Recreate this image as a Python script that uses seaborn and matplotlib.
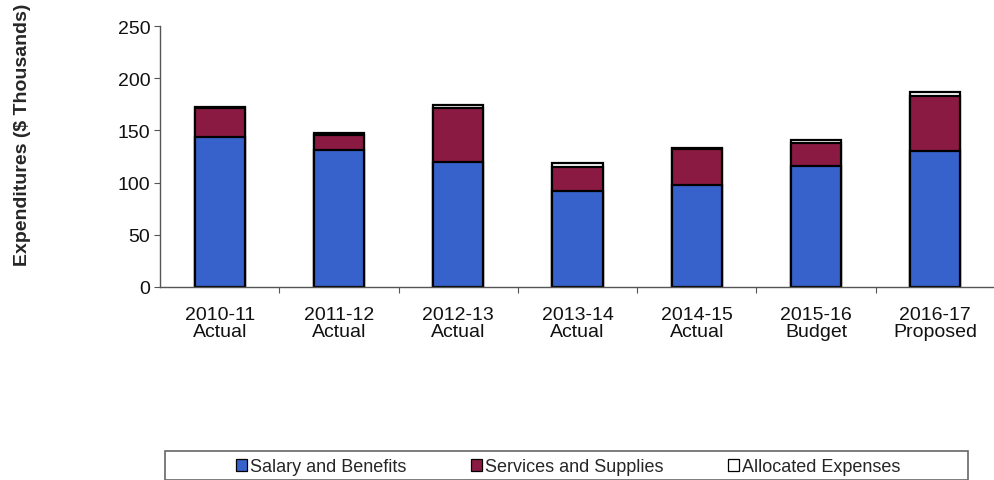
import numpy as np
import pandas as pd
import matplotlib
matplotlib.use("Agg")
import matplotlib.pyplot as plt
import seaborn as sns
from matplotlib.patches import Patch, Rectangle

# Expenditures by fiscal year ($ thousands)
years = ["2010-11\nActual", "2011-12\nActual", "2012-13\nActual", "2013-14\nActual",
         "2014-15\nActual", "2015-16\nBudget", "2016-17\nProposed"]
salary_benefits = [144, 131, 120, 92, 98, 116, 130]
services_supplies = [27, 15, 51, 23, 34, 22, 53]
allocated_expenses = [1, 1.5, 3, 4, 1, 2.5, 4]

series_names = ["Salary and Benefits", "Services and Supplies", "Allocated Expenses"]
colors = ["#3862cb", "#8b1a42", "#ffffff"]

sns.set_theme(style="white")
plt.rcParams["font.family"] = ["Liberation Sans", "DejaVu Sans"]

df = pd.DataFrame({
    "year": years,
    "salary": salary_benefits,
    "services": services_supplies,
    "allocated": allocated_expenses,
})
df["lvl1"] = df["salary"]
df["lvl2"] = df["salary"] + df["services"]
df["lvl3"] = df["lvl2"] + df["allocated"]

fig = plt.figure(figsize=(9.95, 4.81), dpi=100)
ax = fig.add_axes([160 / 995, 193 / 481, 835 / 995, 261 / 481])

# Stacked bars drawn as overlapping cumulative layers, top layer first
bar_kw = dict(width=0.42, edgecolor="black", linewidth=1.6, ax=ax, saturation=1)
sns.barplot(data=df, x="year", y="lvl3", color=colors[2], **bar_kw)
sns.barplot(data=df, x="year", y="lvl2", color=colors[1], **bar_kw)
sns.barplot(data=df, x="year", y="lvl1", color=colors[0], **bar_kw)

ax.set_xlim(-0.5, 6.5)
ax.set_ylim(0, 250)
ax.set_yticks([0, 50, 100, 150, 200, 250])
ax.set_xlabel("")
ax.set_ylabel("Expenditures ($ Thousands)", fontsize=14, fontweight="bold")
ax.yaxis.set_label_coords(-(160 - 31) / 835, (288 - 135) / 261)

for side in ["top", "right"]:
    ax.spines[side].set_visible(False)
for side in ["left", "bottom"]:
    ax.spines[side].set_color("#555555")
    ax.spines[side].set_linewidth(1.0)

ax.tick_params(axis="y", which="major", left=True, length=4, width=0.8,
               color="#555555", labelsize=14, pad=3, labelcolor="#111111")
ax.tick_params(axis="x", which="major", bottom=False, labelsize=14, pad=8,
               labelcolor="#111111")
ax.set_xticks(np.arange(0.5, 6.5, 1.0), minor=True)
ax.tick_params(axis="x", which="minor", bottom=True, length=4, width=0.8, color="#555555")
for lbl in ax.get_xticklabels():
    lbl.set_linespacing(1.0)

# Legend box spanning under the plot, entries centred inside
box = Rectangle((165 / 995, 0 / 481), (968 - 165) / 995, 29 / 481,
                transform=fig.transFigure, fill=False, edgecolor="#666666",
                linewidth=1.2)
fig.add_artist(box)
handles = [Patch(facecolor=c, edgecolor="black", linewidth=0.9) for c in colors]
leg = fig.legend(handles, series_names, loc="center",
                 bbox_to_anchor=(568 / 995, 13 / 481), ncol=3,
                 frameon=False, fontsize=13,
                 handlelength=0.6, handleheight=0.6, handletextpad=0.15,
                 columnspacing=3.6, borderpad=0.0)

fig.savefig("out.png", dpi=100, facecolor="white")
